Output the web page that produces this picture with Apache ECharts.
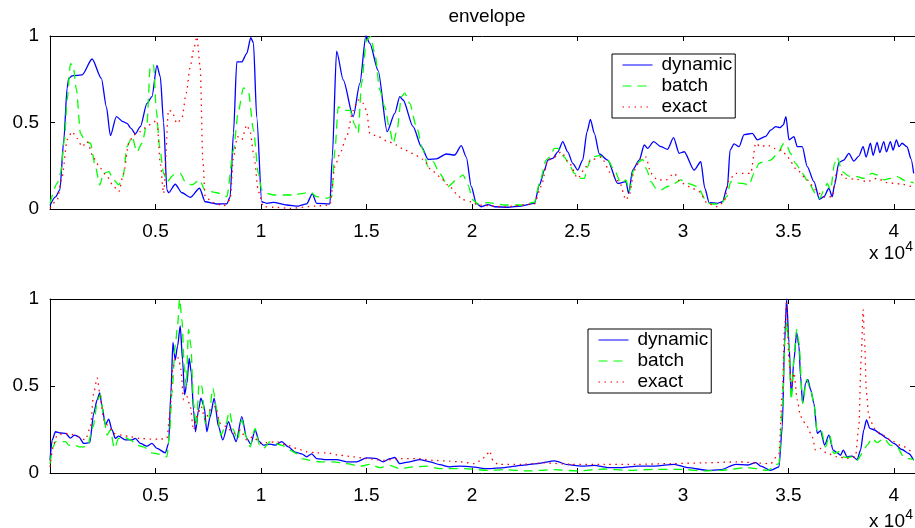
<!DOCTYPE html>
<html>
<head>
<meta charset="utf-8">
<script src="https://cdn.jsdelivr.net/npm/echarts@6/dist/echarts.min.js"></script>
<style>html,body{margin:0;padding:0;background:#fff}#c{width:915px;height:528px}</style>
</head>
<body>
<div id="c"></div>
<script>
// ---------- data (x in samples, y normalised envelope) ----------
const titleText = 'envelope';
const seriesNames = ['dynamic', 'batch', 'exact'];
const xTickValues = [5000, 10000, 15000, 20000, 25000, 30000, 35000, 40000];
const yTickValues = [0, 0.5, 1];
const xMax = 41000;

const topDynamic = [[0,0.02],[260,0.07],[466,0.11],[655,0.4],[812,0.7],[891,0.755],[1049,0.77],[1522,0.775],[1995,0.867],[2436,0.755],[2673,0.59],[2862,0.424],[3146,0.534],[3461,0.505],[3650,0.495],[3840,0.466],[4045,0.434],[4281,0.476],[4596,0.61],[4833,0.65],[5069,0.83],[5227,0.765],[5385,0.5],[5542,0.11],[5621,0.094],[5936,0.143],[6252,0.094],[6646,0.067],[7088,0.12],[7355,0.042],[7908,0.029],[8381,0.03],[8538,0.07],[8696,0.44],[8854,0.85],[9090,0.85],[9327,0.9],[9516,0.99],[9642,0.96],[9800,0.53],[10036,0.042],[10273,0.033],[10588,0.038],[11219,0.023],[11771,0.017],[12165,0.03],[12433,0.087],[12638,0.033],[13268,0.03],[13379,0.3],[13584,0.913],[13899,0.746],[14372,0.534],[14687,0.726],[14971,1.0],[15160,0.957],[15554,0.8],[15980,0.447],[16342,0.553],[16579,0.65],[16737,0.63],[17210,0.476],[17604,0.36],[17920,0.287],[18314,0.29],[18787,0.318],[19180,0.312],[19495,0.366],[19732,0.3],[19968,0.13],[20205,0.033],[20441,0.013],[20757,0.025],[21072,0.013],[21703,0.01],[22334,0.017],[22964,0.033],[23200,0.139],[23437,0.225],[23595,0.283],[23832,0.293],[24068,0.33],[24304,0.39],[24541,0.33],[24777,0.264],[25014,0.225],[25250,0.283],[25455,0.447],[25613,0.518],[25802,0.437],[26039,0.318],[26433,0.283],[26906,0.148],[27300,0.158],[27426,0.09],[27615,0.225],[27931,0.283],[28167,0.37],[28325,0.35],[28609,0.39],[28955,0.36],[29271,0.345],[29555,0.412],[29822,0.322],[30060,0.331],[30532,0.225],[30847,0.273],[31037,0.12],[31242,0.037],[31636,0.033],[31873,0.042],[32109,0.13],[32235,0.34],[32424,0.376],[32660,0.36],[32897,0.43],[33291,0.437],[33528,0.4],[33922,0.42],[34158,0.456],[34395,0.476],[34600,0.47],[34757,0.486],[34883,0.534],[35026,0.4],[35262,0.418],[35420,0.36],[35656,0.36],[35893,0.245],[36209,0.158],[36475,0.056],[36682,0.071],[36918,0.12],[37076,0.071],[37186,0.139],[37391,0.268],[37627,0.283],[37864,0.322],[38100,0.277],[38337,0.306],[38542,0.36],[38683,0.3],[38888,0.38],[39015,0.31],[39204,0.385],[39330,0.326],[39519,0.39],[39645,0.33],[39834,0.39],[39960,0.34],[40118,0.4],[40244,0.36],[40386,0.38],[40622,0.36],[40812,0.29],[40938,0.206]];

const topBatch = [[0,0.033],[340,0.148],[497,0.206],[686,0.4],[812,0.63],[970,0.84],[1096,0.83],[1254,0.69],[1443,0.437],[1680,0.39],[1916,0.38],[2152,0.245],[2357,0.139],[2546,0.206],[2783,0.216],[3020,0.168],[3256,0.139],[3461,0.187],[3650,0.36],[3887,0.418],[4124,0.33],[4360,0.38],[4596,0.495],[4754,0.832],[4912,0.832],[5038,0.57],[5195,0.36],[5385,0.206],[5542,0.158],[5858,0.197],[6174,0.206],[6410,0.158],[6725,0.139],[7088,0.168],[7355,0.106],[7908,0.094],[8381,0.071],[8696,0.34],[8932,0.57],[9169,0.7],[9406,0.68],[9642,0.457],[9878,0.206],[10036,0.11],[10273,0.09],[10588,0.081],[11061,0.081],[11534,0.081],[12007,0.09],[12322,0.1],[12638,0.071],[13110,0.062],[13347,0.071],[13505,0.34],[13663,0.59],[13899,0.57],[14214,0.57],[14451,0.485],[14608,0.437],[14766,0.726],[15002,0.977],[15192,0.996],[15396,0.9],[15633,0.688],[15870,0.59],[16106,0.457],[16264,0.38],[16453,0.457],[16658,0.65],[16816,0.67],[17052,0.61],[17368,0.476],[17683,0.34],[17920,0.245],[18156,0.274],[18472,0.206],[18866,0.13],[19260,0.168],[19574,0.197],[19811,0.139],[20047,0.052],[20284,0.029],[20757,0.037],[21545,0.023],[22334,0.023],[22964,0.039],[23200,0.148],[23516,0.283],[23674,0.3],[23910,0.35],[24068,0.35],[24383,0.3],[24620,0.254],[24856,0.206],[25092,0.177],[25329,0.177],[25487,0.245],[25645,0.3],[26039,0.308],[26433,0.283],[26748,0.225],[27064,0.148],[27300,0.168],[27458,0.1],[27662,0.225],[27931,0.274],[28088,0.287],[28293,0.225],[28482,0.158],[28718,0.12],[28955,0.11],[29271,0.13],[29586,0.148],[29902,0.168],[30217,0.148],[30690,0.13],[31084,0.052],[31321,0.029],[31794,0.029],[32078,0.071],[32267,0.158],[32503,0.152],[32819,0.148],[33134,0.139],[33370,0.206],[33607,0.264],[33844,0.274],[34158,0.283],[34474,0.318],[34789,0.38],[34947,0.36],[35104,0.32],[35341,0.264],[35656,0.206],[35972,0.148],[36287,0.09],[36491,0.062],[36682,0.11],[36839,0.148],[36997,0.11],[37186,0.264],[37312,0.3],[37549,0.216],[37864,0.19],[38258,0.187],[38573,0.177],[38967,0.206],[39204,0.197],[39519,0.168],[39834,0.177],[40149,0.187],[40622,0.158],[40938,0.152]];

const topExact = [[0,0.004],[340,0.052],[576,0.187],[812,0.4],[1049,0.447],[1285,0.408],[1522,0.36],[1758,0.39],[2074,0.293],[2389,0.235],[2704,0.187],[3020,0.13],[3256,0.1],[3493,0.206],[3729,0.38],[3966,0.428],[4281,0.447],[4596,0.476],[4833,0.495],[5069,0.514],[5227,0.264],[5385,0.09],[5621,0.572],[5779,0.563],[6015,0.495],[6252,0.524],[6457,0.67],[6646,0.82],[6804,0.92],[6961,0.996],[7119,0.82],[7245,0.283],[7355,0.071],[7750,0.037],[8223,0.017],[8538,0.052],[8696,0.3],[8885,0.418],[9090,0.4],[9327,0.486],[9484,0.447],[9674,0.3],[9878,0.1],[10115,0.013],[10588,0.01],[11376,0.004],[12638,0.017],[13268,0.023],[13505,0.245],[13741,0.32],[14057,0.418],[14372,0.57],[14608,0.63],[14845,0.61],[15002,0.57],[15160,0.437],[15554,0.418],[16027,0.39],[16421,0.37],[16816,0.34],[17210,0.32],[17683,0.287],[18077,0.225],[18472,0.187],[18866,0.139],[19338,0.081],[19495,0.056],[19968,0.042],[20284,0.023],[21545,0.013],[22964,0.029],[23279,0.13],[23595,0.283],[23910,0.3],[24226,0.33],[24620,0.264],[25014,0.177],[25408,0.245],[25645,0.283],[26118,0.3],[26591,0.206],[26985,0.158],[27300,0.052],[27458,0.081],[27694,0.225],[28009,0.293],[28246,0.3],[28482,0.206],[28797,0.168],[29192,0.168],[29586,0.206],[29902,0.152],[30296,0.13],[30769,0.1],[31163,0.033],[31636,0.013],[31951,0.042],[32188,0.168],[32503,0.206],[32897,0.206],[33213,0.206],[33449,0.38],[33686,0.36],[34001,0.37],[34316,0.35],[34710,0.34],[34947,0.3],[35420,0.225],[35893,0.168],[36287,0.11],[36682,0.067],[37076,0.071],[37312,0.225],[37706,0.177],[38258,0.171],[38731,0.158],[39204,0.177],[39677,0.152],[40307,0.145],[40938,0.125]];

const botDynamic = [[0,0.073],[103,0.19],[260,0.237],[497,0.23],[734,0.228],[970,0.2],[1159,0.218],[1364,0.208],[1600,0.17],[1884,0.174],[2074,0.344],[2231,0.42],[2357,0.46],[2468,0.382],[2625,0.276],[2783,0.31],[2941,0.247],[3098,0.199],[3256,0.212],[3571,0.19],[3887,0.19],[4045,0.199],[4281,0.17],[4596,0.154],[4833,0.17],[5069,0.141],[5464,0.116],[5621,0.17],[5731,0.46],[5826,0.75],[5936,0.65],[6047,0.73],[6173,0.846],[6283,0.65],[6378,0.45],[6488,0.515],[6599,0.66],[6693,0.58],[6804,0.36],[6898,0.237],[7040,0.363],[7151,0.43],[7308,0.382],[7434,0.237],[7592,0.324],[7781,0.43],[7986,0.266],[8191,0.19],[8459,0.295],[8648,0.228],[8822,0.18],[9090,0.324],[9327,0.199],[9516,0.166],[9720,0.247],[9926,0.18],[10115,0.16],[10430,0.166],[10667,0.16],[10982,0.18],[11297,0.15],[11613,0.12],[11929,0.11],[12165,0.093],[12401,0.11],[12638,0.083],[13110,0.077],[13584,0.077],[14057,0.064],[14530,0.064],[15002,0.087],[15475,0.083],[15790,0.064],[16106,0.083],[16342,0.089],[16579,0.054],[17052,0.064],[17525,0.077],[17998,0.064],[18472,0.048],[18945,0.035],[19417,0.04],[19968,0.035],[20757,0.025],[21545,0.031],[22334,0.044],[23122,0.054],[23910,0.07],[24541,0.048],[25171,0.039],[25802,0.044],[26433,0.031],[27064,0.031],[27852,0.04],[28640,0.04],[29586,0.05],[30217,0.031],[31163,0.015],[31794,0.019],[32503,0.05],[33055,0.046],[33449,0.06],[33686,0.04],[34158,0.015],[34552,0.035],[34710,0.266],[34820,0.75],[34915,1.0],[35026,0.75],[35136,0.44],[35262,0.65],[35388,0.807],[35499,0.73],[35577,0.556],[35672,0.4],[35814,0.517],[35924,0.537],[36050,0.48],[36209,0.4],[36366,0.228],[36524,0.243],[36713,0.16],[36918,0.218],[37123,0.131],[37312,0.116],[37470,0.102],[37596,0.131],[37785,0.093],[38022,0.097],[38258,0.077],[38416,0.131],[38573,0.247],[38699,0.305],[38857,0.257],[39081,0.247],[39361,0.224],[39677,0.199],[39992,0.17],[40386,0.135],[40701,0.112],[40938,0.073]];

const botBatch = [[0,0.054],[150,0.15],[260,0.18],[497,0.18],[734,0.18],[891,0.16],[1128,0.16],[1443,0.15],[1758,0.15],[2042,0.266],[2262,0.42],[2389,0.45],[2546,0.324],[2704,0.218],[2862,0.247],[3051,0.141],[3256,0.199],[3493,0.208],[3808,0.19],[4124,0.16],[4439,0.15],[4833,0.116],[5227,0.108],[5542,0.093],[5668,0.228],[5779,0.46],[5936,0.73],[6047,0.846],[6141,1.0],[6252,0.884],[6362,0.614],[6457,0.498],[6567,0.826],[6678,0.73],[6804,0.4],[6930,0.266],[7072,0.517],[7198,0.498],[7355,0.286],[7513,0.305],[7718,0.488],[7907,0.363],[8097,0.218],[8301,0.266],[8506,0.353],[8696,0.247],[8885,0.19],[9090,0.305],[9295,0.208],[9484,0.15],[9720,0.257],[9926,0.16],[10115,0.141],[10430,0.18],[10667,0.17],[10982,0.16],[11376,0.131],[11692,0.112],[11929,0.083],[12322,0.073],[12795,0.064],[13426,0.064],[14057,0.054],[14688,0.039],[15160,0.05],[15633,0.031],[16106,0.044],[16579,0.025],[17210,0.035],[17840,0.039],[18472,0.025],[19102,0.025],[19653,0.025],[20757,0.015],[21545,0.019],[22648,0.012],[23910,0.019],[25014,0.012],[26275,0.023],[27379,0.015],[28640,0.021],[29902,0.021],[31005,0.012],[31794,0.015],[33055,0.031],[34001,0.015],[34552,0.054],[34710,0.363],[34836,0.768],[34915,0.865],[35026,0.73],[35136,0.42],[35262,0.65],[35388,0.826],[35499,0.75],[35672,0.4],[35861,0.537],[36050,0.48],[36209,0.4],[36366,0.237],[36555,0.243],[36760,0.15],[36950,0.218],[37154,0.112],[37391,0.122],[37549,0.093],[37785,0.089],[38022,0.093],[38258,0.073],[38494,0.112],[38731,0.16],[38967,0.199],[39204,0.174],[39519,0.199],[39834,0.16],[40149,0.15],[40465,0.093],[40701,0.083],[40938,0.077]];

const botExact = [[0,0.035],[182,0.17],[340,0.218],[655,0.228],[970,0.224],[1364,0.208],[1679,0.19],[1916,0.266],[2074,0.46],[2231,0.546],[2389,0.44],[2546,0.305],[2783,0.266],[3020,0.228],[3414,0.218],[3808,0.208],[4281,0.199],[4754,0.195],[5227,0.195],[5542,0.199],[5700,0.363],[5826,0.614],[5984,0.67],[6095,0.66],[6205,0.595],[6331,0.42],[6488,0.44],[6646,0.382],[6804,0.247],[6962,0.324],[7167,0.382],[7355,0.305],[7592,0.363],[7829,0.382],[8065,0.286],[8380,0.266],[8696,0.228],[9011,0.247],[9327,0.19],[9642,0.208],[9958,0.17],[10273,0.174],[10746,0.18],[11219,0.16],[11692,0.141],[12165,0.122],[12638,0.116],[13110,0.116],[13741,0.102],[14372,0.093],[15002,0.083],[15790,0.073],[16579,0.083],[17367,0.083],[18156,0.073],[18945,0.068],[19417,0.064],[20126,0.054],[20441,0.073],[20678,0.102],[20836,0.127],[20993,0.073],[21230,0.05],[22334,0.05],[23437,0.058],[24698,0.05],[26275,0.05],[27852,0.05],[29429,0.054],[31005,0.058],[32582,0.064],[34158,0.054],[34552,0.112],[34710,0.46],[34820,0.846],[34915,0.98],[35026,0.65],[35136,0.498],[35262,0.575],[35420,0.42],[35577,0.324],[35893,0.266],[36130,0.208],[36287,0.131],[36524,0.141],[36839,0.112],[37312,0.093],[37785,0.083],[38179,0.093],[38337,0.266],[38447,0.65],[38542,0.94],[38605,0.768],[38699,0.46],[38810,0.324],[39078,0.257],[39361,0.228],[39834,0.19],[40307,0.16],[40938,0.112]];

// ---------- chart ----------
const FONT = 'Liberation Sans';
const FS = 19;
const chart = echarts.init(document.getElementById('c'), null, {renderer: 'canvas'});

const grids = [
  {left: 50, top: 36, width: 867, height: 173},
  {left: 50, top: 299, width: 867, height: 174}
];

function xAx(gi, pos) {
  return {
    type: 'value', gridIndex: gi, position: pos, min: 0, max: xMax, interval: 5000,
    axisLine: {show: true, onZero: false, lineStyle: {color: '#000', width: 1}},
    axisTick: {show: true, inside: true, length: 5, lineStyle: {color: '#000', width: 1},
      customValues: xTickValues},
    axisLabel: {show: pos === 'bottom', color: '#000', fontFamily: FONT, fontSize: FS, margin: 13,
      customValues: xTickValues,
      formatter: v => (v > 0 && v % 5000 === 0) ? String(v / 10000) : ''},
    splitLine: {show: false}
  };
}
function yAx(gi, pos) {
  return {
    type: 'value', gridIndex: gi, position: pos, min: 0, max: 1, interval: 0.5,
    axisLine: {show: true, onZero: false, lineStyle: {color: '#000', width: 1}},
    axisTick: {show: true, inside: true, length: 5, lineStyle: {color: '#000', width: 1},
      customValues: yTickValues},
    axisLabel: {show: pos === 'left', color: '#000', fontFamily: FONT, fontSize: FS, margin: 11,
      customValues: yTickValues, formatter: v => String(v)},
    splitLine: {show: false}
  };
}

const colors = ['#0000ff', '#00ff00', '#ff0000'];
const lineTypes = ['solid', [9, 6], [1.5, 4.5]];
const widths = [1.3, 1.3, 1.3];

function mk(name, idx, data, gi) {
  return {
    name: name, type: 'line', xAxisIndex: gi * 2, yAxisIndex: gi * 2,
    data: data, showSymbol: false, symbol: 'none', smooth: 0.25, smoothMonotone: 'x',
    animation: false,
    lineStyle: {color: colors[idx], width: widths[idx], type: lineTypes[idx]},
    itemStyle: {color: colors[idx]}
  };
}

function legendAt(left, top) {
  return {
    show: true, orient: 'vertical', left: left, top: top,
    data: seriesNames.map(n => ({name: n})),
    borderColor: '#000', borderWidth: 1, backgroundColor: '#fff',
    padding: [1, 3, 1, 10], itemGap: 1, itemWidth: 30, itemHeight: 12,
    itemStyle: {opacity: 0},
    lineStyle: {width: 1},
    textStyle: {color: '#000', fontFamily: FONT, fontSize: FS, lineHeight: 20, padding: [0, 0, 0, 4]},
    selectedMode: false
  };
}

const option = {
  backgroundColor: '#fff',
  animation: false,
  title: {text: titleText, left: 482, top: 2, textAlign: 'center',
    textStyle: {fontFamily: FONT, fontSize: FS, fontWeight: 'normal', color: '#000'}},
  grid: grids,
  xAxis: [xAx(0, 'bottom'), xAx(0, 'top'), xAx(1, 'bottom'), xAx(1, 'top')],
  yAxis: [yAx(0, 'left'), yAx(0, 'right'), yAx(1, 'left'), yAx(1, 'right')],
  legend: [legendAt(612, 54), legendAt(588, 329)],
  series: [
    mk('dynamic', 0, topDynamic, 0), mk('batch', 1, topBatch, 0), mk('exact', 2, topExact, 0),
    mk('dynamic', 0, botDynamic, 1), mk('batch', 1, botBatch, 1), mk('exact', 2, botExact, 1)
  ],
  graphic: [
    {type: 'text', right: 10, top: 244, style: {text: 'x 10', font: FS + 'px ' + FONT, fill: '#000'}},
    {type: 'text', right: 2, top: 240, style: {text: '4', font: '14px ' + FONT, fill: '#000'}},
    {type: 'text', right: 10, top: 512, style: {text: 'x 10', font: FS + 'px ' + FONT, fill: '#000'}},
    {type: 'text', right: 2, top: 508, style: {text: '4', font: '14px ' + FONT, fill: '#000'}}
  ]
};
chart.setOption(option);
</script>
</body>
</html>
